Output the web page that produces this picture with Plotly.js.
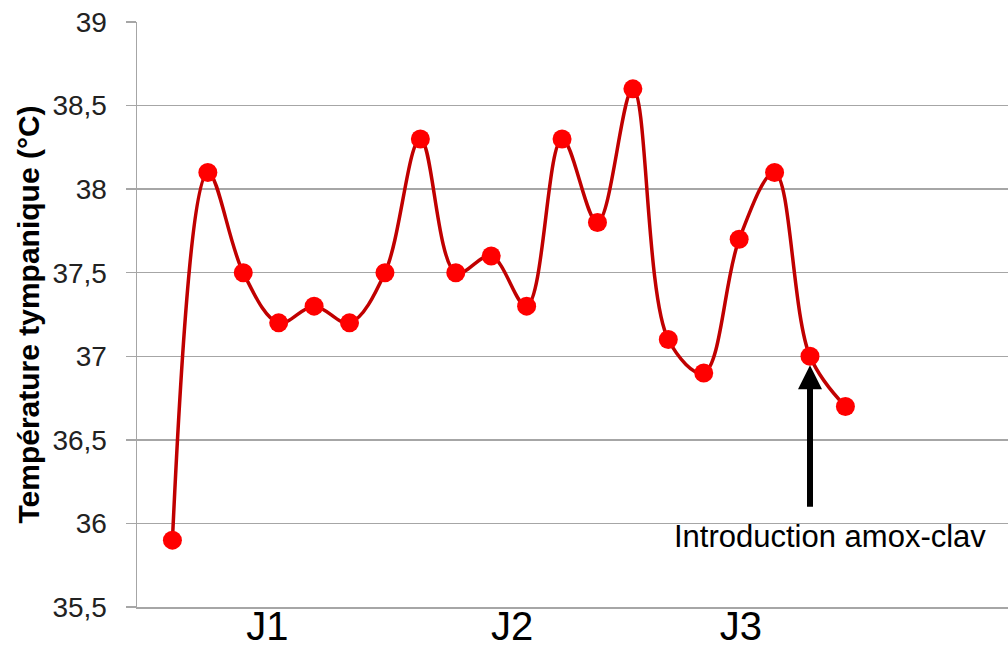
<!DOCTYPE html>
<html>
<head>
<meta charset="utf-8">
<script src="https://cdn.plot.ly/plotly-3.0.1.min.js"></script>
<style>html,body{margin:0;padding:0;background:#fff;}#chart{width:1008px;height:651px;}</style>
</head>
<body>
<div id="chart"></div>
<script>
// Measurement order (1..20) and tympanic temperature (°C)
const measureIndex = [1,2,3,4,5,6,7,8,9,10,11,12,13,14,15,16,17,18,19,20];
const temperature = [35.9,38.1,37.5,37.2,37.3,37.2,37.5,38.3,37.5,37.6,37.3,38.3,37.8,38.6,37.1,36.9,37.7,38.1,37.0,36.7];
const dayLabels = ['J1','J2','J3'];
const dayPositions = [3.68,10.59,17.05];
const yTicks = [35.5,36,36.5,37,37.5,38,38.5,39];
const annotationIndex = 19;
const annotationText = 'Introduction amox-clav';

const trace = {
  x: measureIndex,
  y: temperature,
  type: 'scatter',
  mode: 'lines+markers',
  line: {shape: 'spline', smoothing: 1, color: '#c00000', width: 3.5},
  marker: {color: '#ff0000', size: 19},
  hoverinfo: 'x+y'
};

const layout = {
  width: 1008, height: 651,
  margin: {l: 137, r: 0, t: 22, b: 44, pad: 0},
  paper_bgcolor: '#ffffff', plot_bgcolor: '#ffffff',
  separators: ', ',
  showlegend: false,
  font: {family: 'Liberation Sans, Arial, sans-serif', color: '#000'},
  xaxis: {
    range: [0, 24.59],
    tickmode: 'array', tickvals: dayPositions, ticktext: dayLabels,
    ticks: '', showgrid: false, zeroline: false,
    showline: true, linecolor: '#a6a6a6', linewidth: 1.5,
    tickfont: {size: 40, color: '#000'},
    ticklabelstandoff: -17
  },
  yaxis: {
    range: [35.5, 39],
    tickmode: 'array', tickvals: yTicks,
    ticks: 'outside', ticklen: 10, tickcolor: '#a6a6a6', tickwidth: 1.5,
    showgrid: true, gridcolor: '#a6a6a6', gridwidth: 1.5,
    showline: true, linecolor: '#a6a6a6', linewidth: 1.5,
    zeroline: false,
    tickfont: {size: 28, color: '#222'},
    ticklabelstandoff: 13,
    title: {text: '<b>Température tympanique (°C)</b>', font: {size: 30, color: '#000'}, standoff: 4}
  },
  annotations: [
    {
      x: measureIndex[annotationIndex - 1], y: temperature[annotationIndex - 1],
      xref: 'x', yref: 'y',
      text: '', showarrow: true,
      arrowhead: 2, arrowsize: 0.8, arrowwidth: 6, arrowcolor: '#000',
      standoff: 9, ax: 0, ay: 152
    },
    {
      x: measureIndex[annotationIndex - 1] + 0.57, y: 35.92,
      xref: 'x', yref: 'y',
      text: annotationText, showarrow: false,
      font: {size: 31, color: '#000'},
      xanchor: 'center', yanchor: 'middle'
    }
  ]
};

Plotly.newPlot('chart', [trace], layout, {displayModeBar: false, staticPlot: true});
</script>
</body>
</html>
